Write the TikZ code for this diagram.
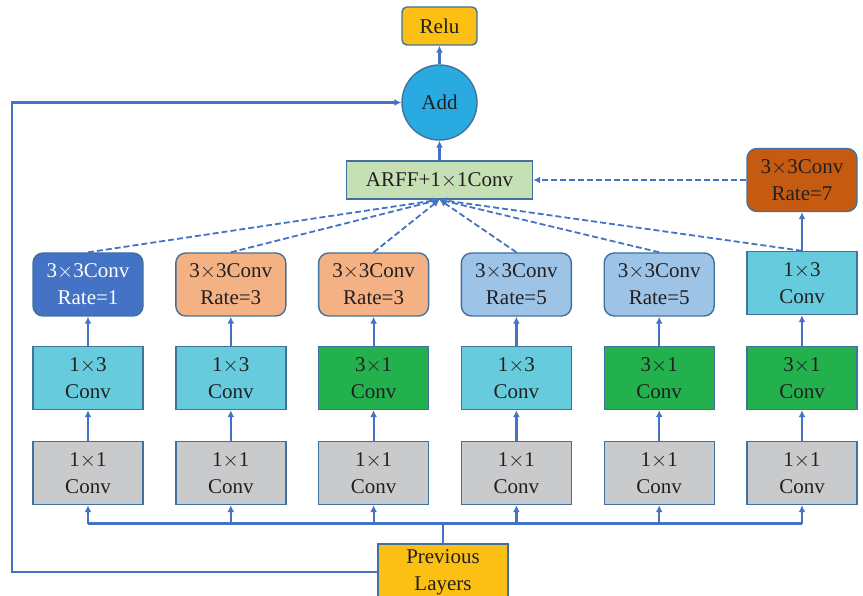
\documentclass[tikz,border=0pt]{standalone}
\usepackage{fontspec}
\setmainfont{Liberation Serif}
\usetikzlibrary{arrows.meta}
\definecolor{linkblue}{HTML}{4472C4}
\definecolor{edgeblue}{HTML}{41719C}
\definecolor{txt}{HTML}{231F20}
\definecolor{gold}{HTML}{FBC013}
\definecolor{addblue}{HTML}{29ABE2}
\definecolor{arffgreen}{HTML}{C5E0B4}
\definecolor{rateone}{HTML}{4472C4}
\definecolor{ratethree}{HTML}{F4B183}
\definecolor{ratefive}{HTML}{9DC3E6}
\definecolor{rateseven}{HTML}{C55A11}
\definecolor{cyanbox}{HTML}{66CCDD}
\definecolor{greenbox}{HTML}{22B14C}
\definecolor{graybox}{HTML}{C9CACC}
\begin{document}
\begin{tikzpicture}[x=1pt,y=-1pt,
  font=\fontsize{21}{27}\selectfont,
  blk/.style={draw=edgeblue, line width=1.4pt, text=txt, inner sep=0pt,
    minimum width=110pt, minimum height=63pt, align=center},
  rblk/.style={blk, rounded corners=10pt},
  link/.style={draw=linkblue, line width=2.2pt},
  arr/.style={link, -{Latex[length=7pt,width=7pt]}},
  darr/.style={draw=linkblue, line width=1.8pt, dash pattern=on 6pt off 3pt,
    -{Latex[length=7pt,width=7pt]}}]
\useasboundingbox (0,0) rectangle (863,596);

% output head
\node[blk, rounded corners=5pt, fill=gold, minimum width=75pt, minimum height=38pt]
  (relu) at (439.5,26) {Relu};
\node[circle, draw=edgeblue, line width=1.4pt, fill=addblue, text=txt,
  minimum size=75pt, inner sep=0pt] (add) at (439.5,102.5) {Add};
\node[blk, fill=arffgreen, minimum width=186pt, minimum height=38pt]
  (arff) at (439.5,180) {ARFF+1$\times$1Conv};

% branch columns
\foreach \i/\x in {1/88,2/230.8,3/373.6,4/516.4,5/659.2,6/802}{
  \node[blk, fill=graybox] (b\i) at (\x,473) {1$\times$1\\Conv};
}
\node[blk, fill=cyanbox]  (m1) at (88,378)    {1$\times$3\\Conv};
\node[blk, fill=cyanbox]  (m2) at (230.8,378) {1$\times$3\\Conv};
\node[blk, fill=greenbox] (m3) at (373.6,378) {3$\times$1\\Conv};
\node[blk, fill=cyanbox]  (m4) at (516.4,378) {1$\times$3\\Conv};
\node[blk, fill=greenbox] (m5) at (659.2,378) {3$\times$1\\Conv};
\node[blk, fill=greenbox] (m6) at (802,378)   {3$\times$1\\Conv};

\node[rblk, fill=rateone, text=white] (t1) at (88,284.5) {3$\times$3Conv\\Rate=1};
\node[rblk, fill=ratethree] (t2) at (230.8,284.5) {3$\times$3Conv\\Rate=3};
\node[rblk, fill=ratethree] (t3) at (373.6,284.5) {3$\times$3Conv\\Rate=3};
\node[rblk, fill=ratefive]  (t4) at (516.4,284.5) {3$\times$3Conv\\Rate=5};
\node[rblk, fill=ratefive]  (t5) at (659.2,284.5) {3$\times$3Conv\\Rate=5};
\node[blk, fill=cyanbox]    (t6) at (802,283)     {1$\times$3\\Conv};
\node[rblk, fill=rateseven] (r7) at (802,180)     {3$\times$3Conv\\Rate=7};

% input
\node[blk, fill=gold, minimum width=130pt, minimum height=56pt]
  (prev) at (443,572) {Previous\\Layers};

% vertical flow inside every branch
\foreach \i in {1,...,6}{
  \draw[arr] (b\i.north) -- (m\i.south);
  \draw[arr] (m\i.north) -- (t\i.south);
}
\draw[arr] (t6.north) -- (r7.south);

% fan-out bus from the input
\coordinate (bus) at (443,523.5);
\draw[link] (prev.north) -- (bus);
\draw[link] (b1.south |- bus) -- (b6.south |- bus);
\foreach \i in {1,...,6}{
  \draw[arr] (b\i.south |- bus) -- (b\i.south);
}

% dashed fusion links
\foreach \i in {1,...,6}{
  \draw[darr] (t\i.north) -- (arff.south);
}
\draw[darr] (r7.west) -- (arff.east);

% head
\draw[arr] (arff.north) -- (add.south);
\draw[arr] (add.north) -- (relu.south);

% residual shortcut
\coordinate (fb) at (12,102.5);
\draw[arr] (prev.west) -| (fb) -- (add.west);
\end{tikzpicture}
\end{document}
